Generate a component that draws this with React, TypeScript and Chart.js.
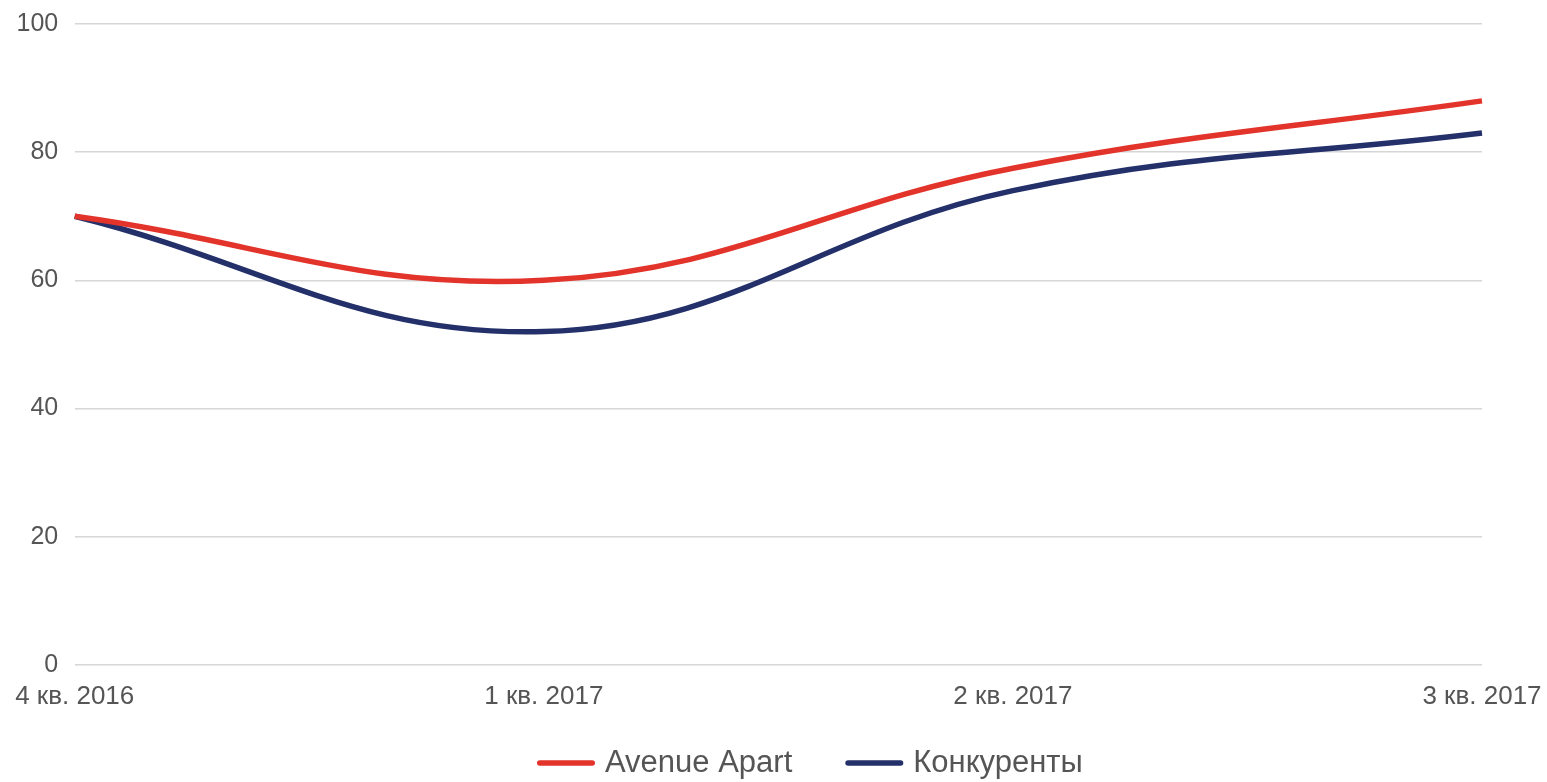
import React, { useEffect, useRef } from "react";
import { Chart, registerables } from "chart.js";

Chart.register(...registerables);

const categories = ["4 кв. 2016", "1 кв. 2017", "2 кв. 2017", "3 кв. 2017"];
const avenueApart = [70, 60, 77.5, 88];
const competitors = [70, 52, 74, 83];
const seriesNames = ["Avenue Apart", "Конкуренты"];
const yTicks = [0, 20, 40, 60, 80, 100];

const RED = "#e3342c";
const NAVY = "#23306a";
const FONT = "'Liberation Sans', Arial, sans-serif";

const legendPlugin = {
  id: "customLegend",
  afterDraw(chart: any) {
    const ctx = chart.ctx as CanvasRenderingContext2D;
    ctx.save();
    ctx.font = `31px ${FONT}`;
    ctx.textBaseline = "middle";
    ctx.textAlign = "left";
    const y = 763;
    const boxW = 58;
    const boxH = 5.5;
    const gap = 10;
    const itemGap = 53;
    let x = 537;
    chart.data.datasets.forEach((ds: any) => {
      ctx.fillStyle = ds.borderColor;
      ctx.beginPath();
      (ctx as any).roundRect(x, y - boxH / 2, boxW, boxH, boxH / 2);
      ctx.fill();
      x += boxW + gap;
      ctx.fillStyle = "#555555";
      ctx.fillText(ds.label, x, y);
      x += ctx.measureText(ds.label).width + itemGap;
    });
    ctx.restore();
  },
};

export default function App() {
  const ref = useRef<HTMLCanvasElement | null>(null);
  useEffect(() => {
    document.body.style.margin = "0";
    const canvas = ref.current;
    if (!canvas) return;
    const chart = new Chart(canvas, {
      type: "line",
      data: {
        labels: categories,
        datasets: [
          {
            label: seriesNames[0],
            data: avenueApart,
            borderColor: RED,
            backgroundColor: RED,
            borderWidth: 5.5,
            pointRadius: 0,
            tension: 0.4,
          },
          {
            label: seriesNames[1],
            data: competitors,
            borderColor: NAVY,
            backgroundColor: NAVY,
            borderWidth: 5.5,
            pointRadius: 0,
            tension: 0.4,
          },
        ],
      },
      plugins: [legendPlugin],
      options: {
        animation: false,
        responsive: false,
        layout: { padding: { top: 24, left: 0, right: 65, bottom: 54 } },
        plugins: {
          tooltip: { enabled: false },
          legend: { display: false },
        },
        scales: {
          x: {
            grid: { display: false, drawTicks: false },
            border: { display: false },
            afterFit: (scale: any) => {
              scale.paddingRight = 0;
              scale.paddingLeft = 0;
            },
            ticks: {
              font: { family: FONT, size: 26 },
              color: "#555555",
              padding: 16,
              maxRotation: 0,
            },
          },
          y: {
            min: 0,
            max: 100,
            afterBuildTicks: (axis: any) => {
              axis.ticks = yTicks.map((v) => ({ value: v }));
            },
            afterFit: (scale: any) => {
              scale.paddingTop = 0;
              scale.paddingBottom = 0;
            },
            grid: { color: "#d6d6d6", lineWidth: 1.5, drawTicks: false },
            border: { display: false },
            ticks: {
              font: { family: FONT, size: 25 },
              color: "#555555",
              padding: 16.5,
            },
          },
        },
      },
    });
    return () => chart.destroy();
  }, []);
  return (
    <div style={{ width: 1547, height: 782 }}>
      <canvas ref={ref} width={1547} height={782} style={{ display: "block" }} />
    </div>
  );
}
